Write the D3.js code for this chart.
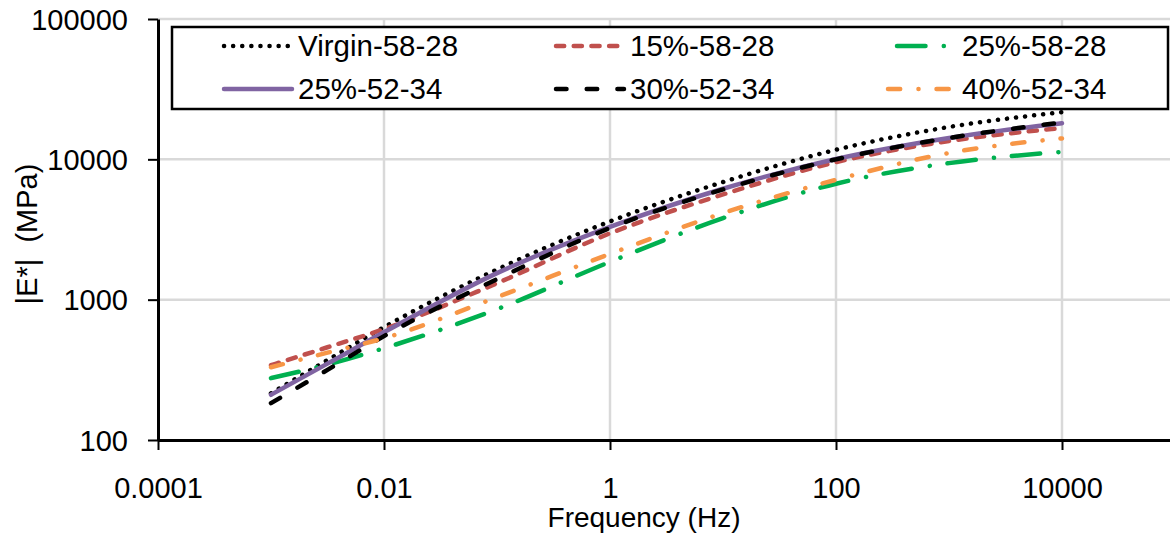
<!DOCTYPE html>
<html>
<head>
<meta charset="utf-8">
<script src="https://cdn.jsdelivr.net/npm/d3@7"></script>
<style>
  body { margin: 0; background: #fff; }
  svg { display: block; font-family: "Liberation Sans", Arial, sans-serif; }
</style>
</head>
<body>
<div id="chart"></div>
<script>
// frequency (Hz) sampled along each master curve
const freq = [0.001, 0.00316, 0.01, 0.1, 1, 10, 100, 1000, 10000];

// |E*| values (MPa)
const virgin5828 = [215, 371, 637, 1640, 3610, 6890, 11700, 17000, 21700];
const rap15_5828 = [341, 458, 617, 1310, 2970, 5620, 9550, 13500, 16700];
const rap25_5828 = [276, 345, 451, 855, 1860, 3810, 6700, 9400, 11300];
const rap25_5234 = [210, 350, 586, 1545, 3300, 6170, 10050, 14200, 18100];
const rap30_5234 = [183, 316, 550, 1400, 3240, 6100, 10000, 14200, 18300];
const rap40_5234 = [330, 419, 531, 1042, 2120, 4140, 7150, 11100, 14100];

const seriesNames = ["Virgin-58-28", "15%-58-28", "25%-58-28", "25%-52-34", "30%-52-34", "40%-52-34"];
const seriesValues = [virgin5828, rap15_5828, rap25_5828, rap25_5234, rap30_5234, rap40_5234];
const seriesColors = ["#000000", "#C0504D", "#00B050", "#8064A2", "#000000", "#F79646"];
const seriesDash = ["0.1 9", "8.2 9.5", "28.5 18.25 0.1 17.85", null, "10.5 20.2", "12.2 18.25 0.1 17.95"];
const legendDashOffset = [0, 0, 55.7, 0, 0, 0];

const xMajor = [0.0001, 0.01, 1, 100, 10000];
const yMajor = [100, 1000, 10000, 100000];

const width = 1170, height = 534;
const plotLeft = 158, plotTop = 19, plotBottom = 440;

const svg = d3.select("#chart").append("svg")
    .attr("width", width)
    .attr("height", height);

const x = d3.scaleLog().domain([0.0001, 100000]).range([plotLeft, plotLeft + 9 * 113]);
const y = d3.scaleLog().domain([100, 100000]).range([plotBottom, plotTop]);

// minor ticks, Excel style: 1..9 in every second decade on x, 2..9 every decade on y
const xMinor = [];
[0.001, 0.1, 10, 1000].forEach(d => { for (let k = 1; k <= 9; k++) xMinor.push(d * k); });
const yMinor = [];
[100, 1000, 10000].forEach(d => { for (let k = 2; k <= 9; k++) yMinor.push(d * k); });

// gridlines
const grid = svg.append("g").attr("stroke", "#d9d9d9").attr("stroke-width", 2.5);
grid.selectAll(".gx").data(xMajor.slice(1).concat([100000])).enter().append("line")
    .attr("x1", d => x(d)).attr("x2", d => x(d))
    .attr("y1", plotTop).attr("y2", plotBottom);
grid.selectAll(".gy").data(yMajor.slice(1)).enter().append("line")
    .attr("x1", plotLeft).attr("x2", width)
    .attr("y1", d => y(d)).attr("y2", d => y(d));

// series lines
const line = d3.line()
    .x((d, i) => x(freq[i]))
    .y(d => y(d))
    .curve(d3.curveMonotoneX);

const lines = svg.append("g").attr("fill", "none");
seriesValues.forEach((vals, s) => {
    lines.append("path")
        .attr("d", line(vals))
        .attr("stroke", seriesColors[s])
        .attr("stroke-width", 4.5)
        .attr("stroke-linecap", "round")
        .attr("stroke-dasharray", seriesDash[s]);
});

// axes
const fontSize = 29;
const xAxisG = svg.append("g").attr("transform", `translate(0,${plotBottom})`);
xAxisG.call(d3.axisBottom(x).tickValues(xMinor).tickSize(6).tickSizeOuter(0).tickFormat(""));
xAxisG.call(d3.axisBottom(x).tickValues(xMajor).tickSize(10).tickSizeOuter(0)
    .tickFormat(d => d < 1 ? d.toFixed(Math.round(-Math.log10(d))) : String(d)));

const yAxisG = svg.append("g").attr("transform", `translate(${plotLeft},0)`);
yAxisG.call(d3.axisLeft(y).tickValues(yMinor).tickSize(7).tickSizeOuter(0).tickFormat(""));
yAxisG.call(d3.axisLeft(y).tickValues(yMajor).tickSize(10).tickSizeOuter(0).tickFormat(d => String(d)));

svg.selectAll(".domain").attr("stroke", "#000").attr("stroke-width", 3);
svg.selectAll(".tick line").attr("stroke", "#000").attr("stroke-width", 2);
xAxisG.selectAll(".tick text")
    .attr("font-size", fontSize).attr("font-family", "Liberation Sans, Arial, sans-serif")
    .attr("fill", "#000").attr("dy", null).attr("y", 58);
yAxisG.selectAll(".tick text")
    .attr("font-size", fontSize).attr("font-family", "Liberation Sans, Arial, sans-serif")
    .attr("fill", "#000").attr("x", -30).attr("dy", "0.35em");

// axis titles
svg.append("text")
    .attr("x", 644).attr("y", 527)
    .attr("text-anchor", "middle")
    .attr("font-size", 28)
    .text("Frequency (Hz)");

svg.append("text")
    .attr("transform", "translate(37,234) rotate(-90)")
    .attr("text-anchor", "middle")
    .attr("font-size", 29)
    .style("white-space", "pre")
    .text("|E*|  (MPa)");

// legend
const legend = svg.append("g");
legend.append("rect")
    .attr("x", 172).attr("y", 27).attr("width", 996).attr("height", 82)
    .attr("fill", "#fff").attr("stroke", "#000").attr("stroke-width", 2.5);

const colX = [224, 556, 888];
const rowY = [46, 89];
seriesNames.forEach((name, s) => {
    const cx = colX[s % 3], cy = rowY[Math.floor(s / 3)];
    legend.append("line")
        .attr("x1", cx).attr("x2", cx + 68)
        .attr("y1", cy).attr("y2", cy)
        .attr("stroke", seriesColors[s])
        .attr("stroke-width", 4.5)
        .attr("stroke-linecap", "round")
        .attr("stroke-dasharray", seriesDash[s])
        .attr("stroke-dashoffset", legendDashOffset[s]);
    legend.append("text")
        .attr("x", cx + 74).attr("y", cy)
        .attr("dy", "0.35em")
        .attr("font-size", 29.5)
        .text(name);
});
</script>
</body>
</html>
